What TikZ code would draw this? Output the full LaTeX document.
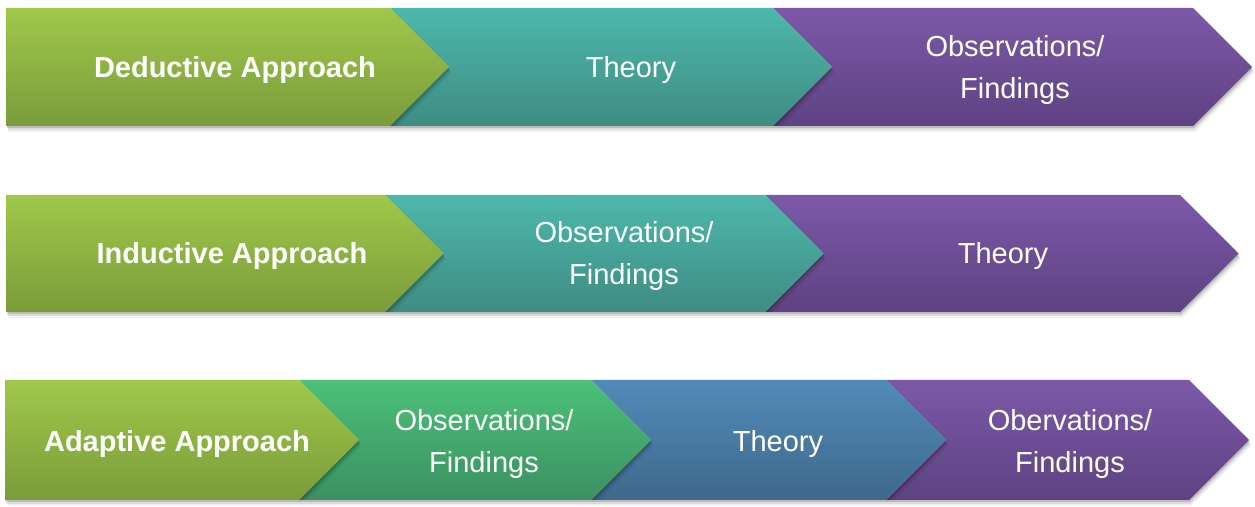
\documentclass[tikz,border=0pt]{standalone}
\usepackage{fontspec}
\setsansfont{Liberation Sans}
\definecolor{GreenTop}{RGB}{160,200,74}
\definecolor{GreenBot}{RGB}{122,156,58}
\definecolor{TealTop}{RGB}{78,184,172}
\definecolor{TealBot}{RGB}{62,140,130}
\definecolor{MintTop}{RGB}{76,192,122}
\definecolor{MintBot}{RGB}{58,145,96}
\definecolor{BlueTop}{RGB}{82,139,184}
\definecolor{BlueBot}{RGB}{62,104,140}
\definecolor{PurpleTop}{RGB}{123,89,168}
\definecolor{PurpleBot}{RGB}{94,66,130}

% one chevron: left x, end of flat top, top y, bottom y, colour, notch (0/1)
\newcommand{\stage}[6]{%
  \pgfmathsetmacro{\stgmid}{(#3+#4)/2}
  \pgfmathsetmacro{\stghalf}{(#4-#3)/2}
  \foreach \d/\o in {6/0.05,4/0.09,2/0.15}
    \fill[black, opacity=\o, shift={(\d*0.4,\d)}] (#1,#3) -- (#2,#3) -- ({#2+\stghalf},\stgmid) -- (#2,#4) -- (#1,#4) -- ({#1+#6*\stghalf},\stgmid) -- cycle;
  \shade[top color=#5Top, bottom color=#5Bot] (#1,#3) -- (#2,#3) -- ({#2+\stghalf},\stgmid) -- (#2,#4) -- (#1,#4) -- ({#1+#6*\stghalf},\stgmid) -- cycle;
}

\tikzset{
  lbl/.style={text=white, align=center, yshift=-1.5pt, font=\sffamily\fontsize{14.5}{21}\selectfont},
  head/.style={lbl, font=\sffamily\bfseries\fontsize{14.5}{21}\selectfont}
}

\begin{document}
\begin{tikzpicture}[x=0.5pt, y=-0.5pt]
	\useasboundingbox (0,0) rectangle (1255,507);

	% Deductive row (drawn right to left so tips overlap)
	\stage{773}{1193}{8}{126}{Purple}{1}
	\stage{390}{773}{8}{126}{Teal}{1}
	\stage{6}{390}{8}{126}{Green}{0}

	% Inductive row
	\stage{765}{1180}{195}{312}{Purple}{1}
	\stage{385}{765}{195}{312}{Teal}{1}
	\stage{6}{385}{195}{312}{Green}{0}

	% Adaptive row
	\stage{886}{1189}{380}{500}{Purple}{1}
	\stage{591}{886}{380}{500}{Blue}{1}
	\stage{299}{591}{380}{500}{Mint}{1}
	\stage{5}{299}{380}{500}{Green}{0}

	% Text
	\node[head] (ded)       at (235,67)  {Deductive Approach};
	\node[lbl]  (dedTheory) at (631,67)  {Theory};
	\node[lbl]  (dedObs)    at (1015,67) {Observations/\\Findings};

	\node[head] (ind)       at (232,253) {Inductive Approach};
	\node[lbl]  (indObs)    at (624,253) {Observations/\\Findings};
	\node[lbl]  (indTheory) at (1003,253) {Theory};

	\node[head] (ada)       at (177,441) {Adaptive Approach};
	\node[lbl]  (adaObs)    at (484,441) {Observations/\\Findings};
	\node[lbl]  (adaTheory) at (778,441) {Theory};
	\node[lbl]  (adaObv)    at (1070,441) {Obervations/\\Findings};

\end{tikzpicture}
\end{document}
